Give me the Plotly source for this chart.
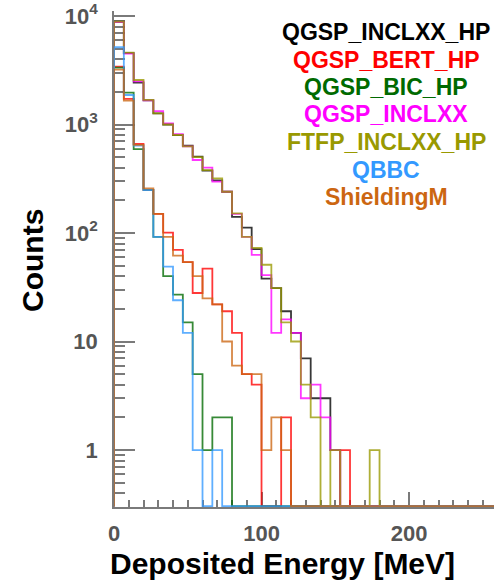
import plotly.graph_objects as go

# ---------------- data ----------------
BIN_WIDTH = 20.0 / 3.0          # MeV per bin
N_BINS = 45                     # 0 - 300 MeV

series_names = ["QGSP_INCLXX_HP", "QGSP_BERT_HP", "QGSP_BIC_HP", "QGSP_INCLXX",
                "FTFP_INCLXX_HP", "QBBC", "ShieldingM"]
text_colors = ["#000000", "#ff0000", "#006a00", "#ff00ff", "#999900", "#3399ff", "#cc6611"]
line_colors = ["#000000", "#ff0000", "#006a00", "#ff00ff", "#999900", "#3399ff", "#cc6611"]

qgsp_inclxx_hp = [8850, 4550, 2430, 1670, 1268, 1000, 800, 638, 505, 375, 305, 240, 141, 112,
                  71, 38, 31, 19, 12, 7, 3, 3, 1]
qgsp_bert_hp = [3410, 1720, 661, 250, 150, 101, 70, 54, 28, 47, 22, 19, 12, 5, 4, 0, 0, 2,
                0, 0, 0, 0, 0, 1]
qgsp_bic_hp = [3350, 1964, 594, 250, 92, 40, 27, 15, 5, 1, 2, 2]
qgsp_inclxx = [8800, 4500, 2500, 1670, 1331, 1026, 817, 630, 471, 400, 297, 240, 150, 92,
               63, 41, 12, 16, 12, 3, 4, 2, 1]
ftfp_inclxx_hp = [8860, 4590, 2570, 1683, 1268, 1000, 800, 630, 500, 380, 319, 240, 152, 92,
                  73, 51, 31, 15, 10, 4, 2, 0, 1, 0, 0, 0, 1]
qbbc = [5150, 1870, 638, 249, 92, 49, 24, 12, 1, 0, 1]
shieldingm = [3200, 1657, 650, 258, 150, 92, 62, 54, 40, 25, 22, 10, 6, 5, 5, 1, 2, 1]

series_values = [qgsp_inclxx_hp, qgsp_bert_hp, qgsp_bic_hp, qgsp_inclxx,
                 ftfp_inclxx_hp, qbbc, shieldingm]

x_tick_vals = [0, 100, 200]
x_tick_text = ["0", "100", "200"]
y_tick_vals = [1, 10, 100, 1000, 10000]
y_tick_text = ["1", "10", "10<sup>2</sup>", "10<sup>3</sup>", "10<sup>4</sup>"]
y_minor_vals = [m * 10 ** e for e in range(-1, 5) for m in range(2, 10)]

X_RANGE = [0, 257.6]
Y_RANGE_LOG = [-0.525, 4.046]
FLOOR = 10 ** (Y_RANGE_LOG[0] + 0.008)   # empty bins drawn on the frame bottom

AX_COLOR = "#7a7a7a"
FONT = "Liberation Sans"

# ---------------- figure ----------------
fig = go.Figure()
edges = [i * BIN_WIDTH for i in range(N_BINS + 1)]

for name, vals, col in zip(series_names, series_values, line_colors):
    full = list(vals) + [0] * (N_BINS - len(vals))
    ys = [max(v, FLOOR) for v in full]
    fig.add_trace(go.Scatter(
        x=[0] + edges,
        y=[FLOOR] + ys + [ys[-1]],
        mode="lines",
        line=dict(shape="hv", color=col, width=1.8),
        opacity=0.78,
        name=name,
        showlegend=False,
        hoverinfo="skip",
    ))

# legend as coloured text (centred column)
for i, (name, col) in enumerate(zip(series_names, text_colors)):
    y_px = 32 + i * 27.5
    fig.add_annotation(
        x=(386 - 114) / 380, y=(507 - y_px) / 496, xref="paper", yref="paper",
        text=name, showarrow=False, xanchor="center", yanchor="middle",
        font=dict(family=FONT, size=23, color=col, weight="bold"),
    )

# axis titles
fig.add_annotation(
    x=(32 - 114) / 380, y=(507 - 261) / 496, xref="paper", yref="paper",
    text="Counts", showarrow=False, textangle=-90, xanchor="center", yanchor="middle",
    font=dict(family=FONT, size=30, color="#000000", weight="bold"),
)
fig.add_annotation(
    x=(282.5 - 114) / 380, y=(507 - 563) / 496, xref="paper", yref="paper",
    text="Deposited Energy [MeV]", showarrow=False, xanchor="center", yanchor="middle",
    font=dict(family=FONT, size=30, color="#000000", weight="bold"),
)

fig.update_xaxes(
    range=X_RANGE, showgrid=False, zeroline=False,
    showline=True, linecolor=AX_COLOR, linewidth=1.5,
    ticks="inside", ticklen=15, tickwidth=1.5, tickcolor=AX_COLOR,
    tickmode="array", tickvals=x_tick_vals, ticktext=x_tick_text,
    tickfont=dict(family=FONT, size=22, color="#555555", weight="bold"),
    ticklabelstandoff=6,
    minor=dict(ticks="inside", ticklen=7, tickwidth=1.5, tickcolor=AX_COLOR,
               dtick=10, tick0=0, showgrid=False),
    layer="below traces",
)
fig.update_yaxes(
    type="log", range=Y_RANGE_LOG, showgrid=False, zeroline=False,
    showline=True, linecolor=AX_COLOR, linewidth=1.5,
    ticks="inside", ticklen=21, tickwidth=1.5, tickcolor=AX_COLOR,
    tickmode="array", tickvals=y_tick_vals, ticktext=y_tick_text,
    tickfont=dict(family=FONT, size=22, color="#555555", weight="bold"),
    ticklabelstandoff=10,
    minor=dict(ticks="inside", ticklen=11, tickwidth=1.5, tickcolor=AX_COLOR,
               tickmode="array", tickvals=y_minor_vals, showgrid=False),
    layer="below traces",
)

fig.update_layout(
    width=494, height=580,
    margin=dict(l=114, r=0, t=11, b=73),
    paper_bgcolor="white", plot_bgcolor="white",
    showlegend=False,
)

fig.write_html("out.html")
